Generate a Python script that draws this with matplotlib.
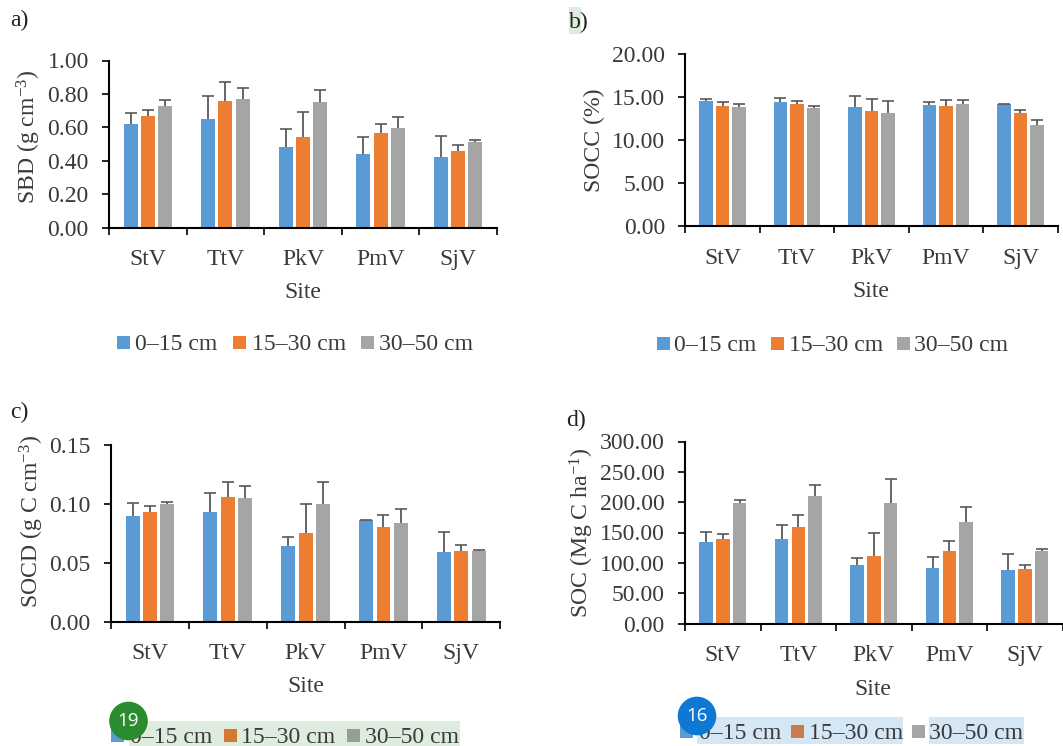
#!/usr/bin/env python3
import numpy as np
import matplotlib
matplotlib.use("Agg")
import matplotlib.pyplot as plt
from matplotlib.patches import Circle, Rectangle
from matplotlib.transforms import Affine2D

plt.rcParams["font.family"] = ["Liberation Serif", "DejaVu Serif"]
plt.rcParams["mathtext.fontset"] = "custom"
plt.rcParams["mathtext.rm"] = "Liberation Serif"
plt.rcParams["mathtext.default"] = "rm"

sites = ["StV", "TtV", "PkV", "PmV", "SjV"]
depths = ["0–15 cm", "15–30 cm", "30–50 cm"]
colors = ["#5B9BD5", "#ED7D31", "#A5A5A5"]

# values, tops = top of the error bar
sbd_0_15 = [0.62, 0.65, 0.485, 0.44, 0.42]
sbd_15_30 = [0.67, 0.755, 0.545, 0.565, 0.46]
sbd_30_50 = [0.73, 0.77, 0.75, 0.595, 0.51]
sbd_tops_0_15 = [0.685, 0.79, 0.59, 0.54, 0.55]
sbd_tops_15_30 = [0.705, 0.87, 0.69, 0.62, 0.495]
sbd_tops_30_50 = [0.765, 0.835, 0.825, 0.665, 0.525]

socc_0_15 = [14.6, 14.4, 13.8, 14.05, 14.2]
socc_15_30 = [13.95, 14.15, 13.4, 14.0, 13.2]
socc_30_50 = [13.8, 13.7, 13.1, 14.15, 11.8]
socc_tops_0_15 = [14.75, 14.85, 15.1, 14.4, 14.25]
socc_tops_15_30 = [14.4, 14.5, 14.75, 14.65, 13.45]
socc_tops_30_50 = [14.15, 13.95, 14.5, 14.7, 12.3]

socd_0_15 = [0.09, 0.093, 0.064, 0.086, 0.059]
socd_15_30 = [0.093, 0.106, 0.075, 0.08, 0.06]
socd_30_50 = [0.0995, 0.105, 0.0995, 0.084, 0.06]
socd_tops_0_15 = [0.101, 0.109, 0.072, 0.0865, 0.076]
socd_tops_15_30 = [0.098, 0.119, 0.0995, 0.091, 0.065]
socd_tops_30_50 = [0.102, 0.115, 0.119, 0.096, 0.061]

soc_0_15 = [135, 140, 96, 91, 88]
soc_15_30 = [140, 159, 112, 119, 90]
soc_30_50 = [199, 210, 199, 167, 119]
soc_tops_0_15 = [151, 163, 108, 110, 115]
soc_tops_15_30 = [147, 179, 149, 136, 97]
soc_tops_30_50 = [204, 229, 238, 192, 122]

W, H = 1063, 746
fig = plt.figure(figsize=(W / 100, H / 100), dpi=100, facecolor="white")
# everything placed by hand is given in picture pixels, y going down
px = Affine2D().scale(1, -1).translate(0, H)

TEXT = "#3a3a3a"
FS = 17.1

panels = [
    dict(box=(109, 60.5, 497, 227.7), ymax=1.0, step=0.2,
         ylabel="SBD (g cm$^{-3}$)", ylab=(29, 137), xlab=(302.6, 292.5), tag=("a)", 10, 20),
         vals=[sbd_0_15, sbd_15_30, sbd_30_50],
         tops=[sbd_tops_0_15, sbd_tops_15_30, sbd_tops_30_50],
         swatch_x=[117, 233, 361], text_x=[135, 252, 379], leg_y=343),
    dict(box=(685.3, 54, 1057.7, 226.3), ymax=20, step=5,
         ylabel="SOCC (%)", ylab=(594, 140), xlab=(871, 291.5), tag=("b)", 569, 22),
         vals=[socc_0_15, socc_15_30, socc_30_50],
         tops=[socc_tops_0_15, socc_tops_15_30, socc_tops_30_50],
         swatch_x=[657.4, 771, 897], text_x=[674.4, 789, 914], leg_y=344),
    dict(box=(110.9, 445, 500.3, 621.7), ymax=0.15, step=0.05,
         ylabel="SOCD (g C cm$^{-3}$)", ylab=(31.7, 521), xlab=(305.6, 686.5), tag=("c)", 10, 412),
         vals=[socd_0_15, socd_15_30, socd_30_50],
         tops=[socd_tops_0_15, socd_tops_15_30, socd_tops_30_50],
         swatch_x=[111, 223.5, 347], text_x=[130, 241, 365], leg_y=736,
         swatch_colors=["#5B9BD5", "#D07B30", "#959F92"]),
    dict(box=(685, 441.5, 1062.7, 623.5), ymax=300, step=50,
         ylabel="SOC (Mg C ha$^{-1}$)", ylab=(581.6, 533), xlab=(873, 689.5), tag=("d)", 566, 420),
         vals=[soc_0_15, soc_15_30, soc_30_50],
         tops=[soc_tops_0_15, soc_tops_15_30, soc_tops_30_50],
         swatch_x=[680, 791, 911.6], text_x=[699, 808.6, 929], leg_y=732,
         swatch_colors=["#5B9BD5", "#C87B4C", "#A5A5A5"]),
]

# highlight marks sitting behind the text: x, y, w, h, colour
highlights = [
    (569, 7, 12, 27, "#DEECDF"),
    (129, 721, 331, 25, "#DEECDF"),
    (697, 717, 206, 27, "#D5E6F4"),
    (929, 717, 95, 27, "#D5E6F4"),
]
for x, y, w, h, c in highlights:
    fig.add_artist(Rectangle((x, y), w, h, transform=px, facecolor=c, edgecolor="none", zorder=-1))

for p in panels:
    x0, y0, x1, y1 = p["box"]
    ax = fig.add_axes([x0 / W, 1 - y1 / H, (x1 - x0) / W, (y1 - y0) / H], facecolor="none")
    centers = np.arange(len(sites)) + 0.5
    bar_w = 0.179
    bar_step = 0.222
    for i in range(3):
        xs = centers + (i - 1) * bar_step
        ax.bar(xs, p["vals"][i], width=bar_w, color=colors[i], zorder=2)
        ax.vlines(xs, p["vals"][i], p["tops"][i], color="#595959", lw=1.3, zorder=3)
        ax.plot(xs, p["tops"][i], ls="none", marker="_", ms=8.8, mew=1.2, color="#595959", zorder=3,
                clip_on=False)

    ax.set_xlim(0, len(sites))
    ax.set_ylim(0, p["ymax"])
    ax.set_yticks(np.arange(0, p["ymax"] + p["step"] / 2, p["step"]))
    ax.yaxis.set_major_formatter("{x:.2f}")
    ax.set_xticks(np.arange(len(sites) + 1))
    ax.set_xticklabels([])
    ax.set_xticks(centers, minor=True)
    ax.set_xticklabels(sites, minor=True)
    ax.tick_params(axis="x", which="major", length=5, width=1.2, color="black")
    ax.tick_params(axis="x", which="minor", length=0, pad=15.5, labelsize=FS, labelcolor=TEXT)
    ax.tick_params(axis="y", length=5, width=1.2, color="black", pad=9.5, labelsize=FS, labelcolor=TEXT)
    ax.spines["top"].set_visible(False)
    ax.spines["right"].set_visible(False)
    ax.spines["left"].set_linewidth(1.5)
    ax.spines["bottom"].set_linewidth(1.5)

    ax.set_xlabel("Site", fontsize=FS, color=TEXT)
    ax.xaxis.set_label_coords(p["xlab"][0], p["xlab"][1], transform=px)
    ax.xaxis.label.set_verticalalignment("center")
    ax.set_ylabel(p["ylabel"], fontsize=FS, color=TEXT)
    ax.yaxis.set_label_coords(p["ylab"][0], p["ylab"][1], transform=px)
    ax.yaxis.label.set_verticalalignment("center")

    name, tx, ty = p["tag"]
    fig.text(tx, ty, name, transform=px, fontsize=FS, color="#222222", va="center", ha="left")

    # legend entries are not evenly spaced in the original, so place them one by one
    sw_colors = p.get("swatch_colors", colors)
    for sx, lx, c, label in zip(p["swatch_x"], p["text_x"], sw_colors, depths):
        fig.add_artist(Rectangle((sx, p["leg_y"] - 7.5), 13, 13, transform=px, facecolor=c, edgecolor="none"))
        fig.text(lx, p["leg_y"] + 1.5, label, transform=px, fontsize=FS, color=TEXT, va="center", ha="left")

# round badges over the bottom legends
badges = [(128.5, 721, "19", "#2A8C2F"), (697, 716, "16", "#0F78D4")]
for bx, by, label, c in badges:
    fig.add_artist(Circle((bx, by), 19.3, transform=px, facecolor=c, edgecolor="none", zorder=5))
    fig.text(bx, by, label, transform=px, fontsize=13.5, color="white", family="Open Sans",
             ha="center", va="center", zorder=6)

fig.savefig("out.png", dpi=100)
